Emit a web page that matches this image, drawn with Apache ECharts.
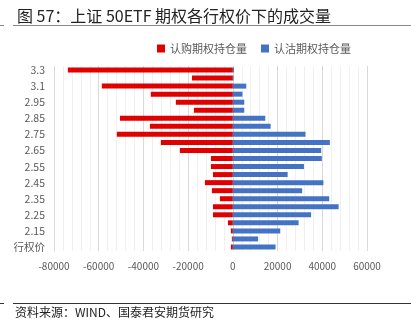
<!DOCTYPE html>
<html><head><meta charset="utf-8">
<script src="https://cdn.jsdelivr.net/npm/echarts@6/dist/echarts.min.js"></script>
<style>html,body{margin:0;padding:0;background:#fff}#c{width:411px;height:334px}</style>
</head><body><div id="c"></div>
<script>
// bottom to top
var categories = ['行权价','2.1','2.15','2.2','2.25','2.3','2.35','2.4','2.45','2.5','2.55','2.6','2.65','2.7','2.75','2.8','2.85','2.9','2.95','3.0','3.1','3.2','3.3'];
var callValues = [-900,-450,-900,-2200,-8900,-8900,-5800,-9400,-12500,-8900,-9800,-9800,-23700,-32200,-51900,-37100,-50500,-17400,-25500,-36700,-58600,-18300,-73800];
var putValues = [19100,11300,21200,29400,35000,47300,43100,31000,40500,24500,31800,39800,39500,43400,32500,16900,14500,5100,5100,4300,6000,300,500];
var seriesNames = ['认购期权持仓量','认沽期权持仓量'];
var xTicks = {min:-80000, max:60000, interval:20000};

var chart = echarts.init(document.getElementById('c'));
chart.setOption({
  animation:false,
  textStyle:{fontFamily:'"Noto Sans CJK SC", "Noto Sans", sans-serif'},
  title:{text:'图 57：上证 50ETF 期权各行权价下的成交量', left:12, top:3,
    textStyle:{fontSize:16, fontWeight:'normal', color:'#222', fontFamily:'"Noto Sans CJK SC", sans-serif'}},
  graphic:[
    {type:'line', shape:{x1:13,y1:25.5,x2:411,y2:25.5}, style:{stroke:'#888', lineWidth:1}},
    {type:'line', shape:{x1:0,y1:25.5,x2:4,y2:25.5}, style:{stroke:'#888', lineWidth:1}},
    {type:'line', shape:{x1:13,y1:303.5,x2:411,y2:303.5}, style:{stroke:'#333', lineWidth:1}},
    {type:'line', shape:{x1:0,y1:303.5,x2:4,y2:303.5}, style:{stroke:'#333', lineWidth:1}},
    {type:'text', left:15, top:306, style:{text:'资料来源：WIND、国泰君安期货研究', fontSize:12, fill:'#222', fontFamily:'"Noto Sans CJK SC", sans-serif'}}
  ],
  legend:{data:seriesNames, top:38, left:152, itemWidth:8, itemHeight:8, itemGap:14,
    icon:'rect', textStyle:{fontSize:11, color:'#595959'}},
  grid:{left:54, right:44, top:66, bottom:83, containLabel:false},
  xAxis:{type:'value', min:xTicks.min, max:xTicks.max, interval:xTicks.interval,
    axisLine:{show:false}, axisTick:{show:false},
    axisLabel:{fontSize:10, color:'#595959', margin:10, formatter:function(v){return String(v);}},
    splitLine:{show:true, lineStyle:{color:'#d9d9d9', width:1}},
    minorTick:{show:false, splitNumber:5},
    minorSplitLine:{show:true, lineStyle:{color:'#f0f0f0', width:1}}},
  yAxis:{type:'category', data:categories,
    axisLine:{show:false}, axisTick:{show:false},
    axisLabel:{interval:1, fontSize:10.5, color:'#595959', margin:9}},
  series:[
    {name:seriesNames[0], type:'bar', data:callValues, barWidth:5, barGap:'-100%',
      itemStyle:{color:'#E00000'}},
    {name:seriesNames[1], type:'bar', data:putValues, barWidth:5,
      itemStyle:{color:'#4472C4'}}
  ]
});
</script></body></html>
